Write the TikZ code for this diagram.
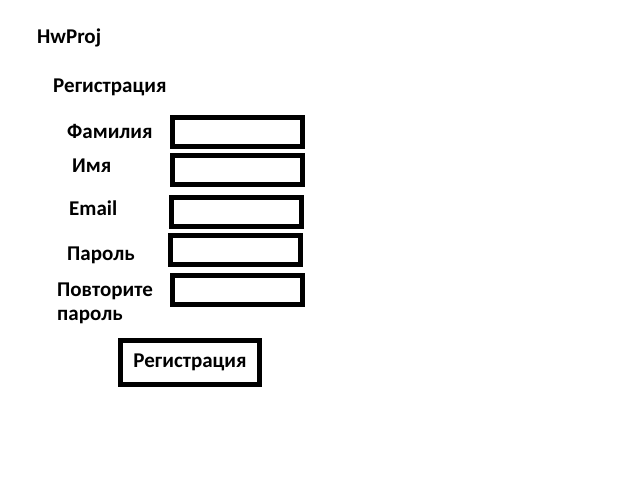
\documentclass[tikz,border=0pt]{standalone}
\usepackage{fontspec}
\setmainfont{Carlito}
\usetikzlibrary{positioning}

\begin{document}
\begin{tikzpicture}[x=1pt, y=-1pt, font=\fontsize{21}{24}\selectfont\bfseries,
                    field/.style={draw, line width=5pt, minimum width=130pt, minimum height=29pt, inner sep=0pt},
                    lbl/.style={anchor=base west, inner sep=0pt}]
                    \useasboundingbox (0,0) rectangle (640,480);
                    \node [lbl] (title) at (37,43) {HwProj};
                    \node [lbl] (header) at (53,92) {Регистрация};
                    \node [lbl] (surname) at (67,138) {Фамилия};
                    \node [lbl] (name) at (72,172) {Имя};
                    \node [lbl] (email) at (69,215) {Email};
                    \node [lbl] (pass) at (67,260) {Пароль};
                    \node [lbl, align=left] (repeat) at (57,320) {Повторите\\пароль};
                    \node [field] (surnameBox) at (237,132) {};
                    \node [field] (nameBox) at (237,170) {};
                    \node [field] (emailBox) at (236,211.5) {};
                    \node [field] (passBox) at (235.5,250) {};
                    \node [field] (repeatBox) at (237,290) {};
                    \node [field, minimum width=139pt, minimum height=44pt] (submit) at (190,362.5) {Регистрация};
                \end{tikzpicture}
\end{document}
